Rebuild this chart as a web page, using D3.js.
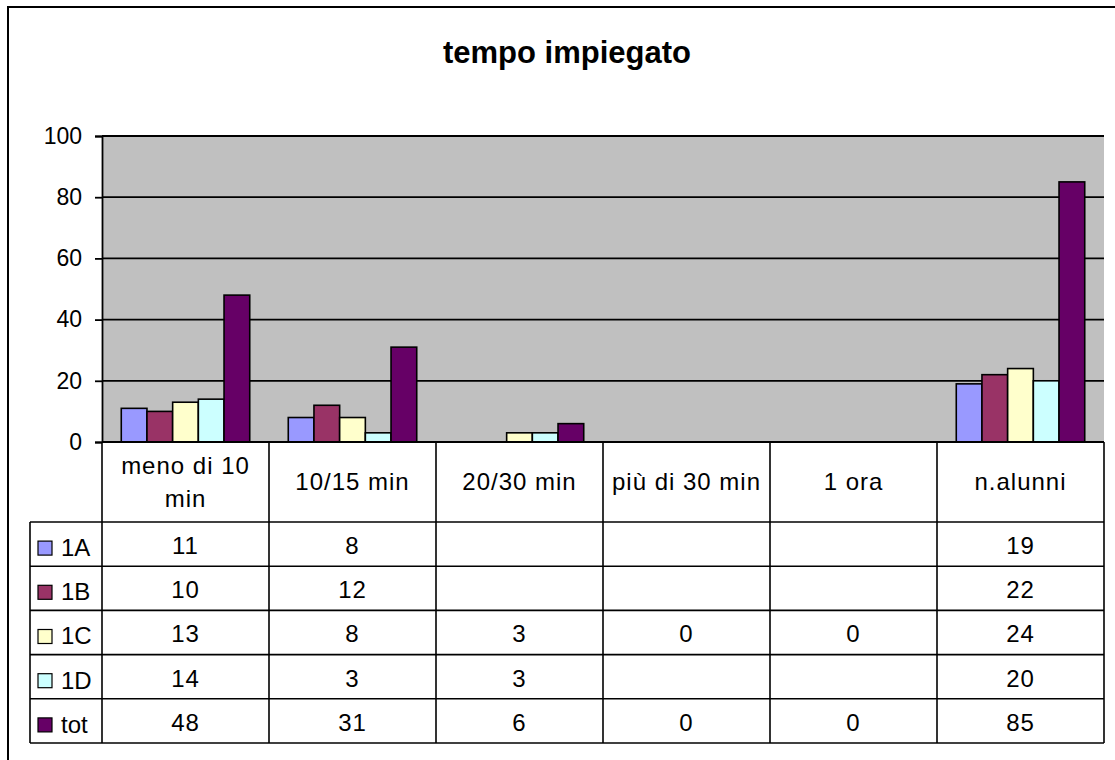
<!DOCTYPE html>
<html>
<head>
<meta charset="utf-8">
<script src="https://cdn.jsdelivr.net/npm/d3@7"></script>
<style>
  body { margin: 0; background: #fff; }
  text { font-family: "Liberation Sans", Arial, sans-serif; fill: #000; }
</style>
</head>
<body>
<div id="chart"></div>
<script>
// categories, series and values (null = empty cell in the data table)
const categories = ['meno di 10 min', '10/15 min', '20/30 min', 'più di 30 min', '1 ora', 'n.alunni'];
const seriesNames = ['1A', '1B', '1C', '1D', 'tot'];
const values1A = [11, 8, null, null, null, 19];
const values1B = [10, 12, null, null, null, 22];
const values1C = [13, 8, 3, 0, 0, 24];
const values1D = [14, 3, 3, null, null, 20];
const valuesTot = [48, 31, 6, 0, 0, 85];
const yTicks = [0, 20, 40, 60, 80, 100];
const title = 'tempo impiegato';

const colors = {
  '1A': '#9999ff',
  '1B': '#993366',
  '1C': '#ffffcc',
  '1D': '#ccffff',
  'tot': '#660066'
};

const series = seriesNames.map((name, i) => ({
  key: name,
  values: [values1A, values1B, values1C, values1D, valuesTot][i]
}));

const W = 1115, H = 760;
const plot = {left: 102, right: 1104, top: 136, bottom: 442};
const legendLeft = 30;
const headerBottom = 522;
const rowH = 44.2;

const svg = d3.select('#chart')
  .append('svg')
    .attr('width', W)
    .attr('height', H);

// outer chart frame (runs off the right and bottom of the picture)
svg.append('rect')
  .attr('x', 8).attr('y', 7)
  .attr('width', 1300).attr('height', 1000)
  .attr('fill', '#fff')
  .attr('stroke', '#000')
  .attr('stroke-width', 2);

// title
svg.append('text')
  .attr('x', 567).attr('y', 63)
  .attr('text-anchor', 'middle')
  .style('font-size', '31px')
  .style('font-weight', 'bold')
  .text(title);

const x = d3.scaleBand()
  .domain(categories)
  .range([plot.left, plot.right])
  .paddingInner(0).paddingOuter(0);

const gap = x.bandwidth() * 1.5 / (seriesNames.length + 1.5);
const xs = d3.scaleBand()
  .domain(seriesNames)
  .range([gap / 2, x.bandwidth() - gap / 2]);

const y = d3.scaleLinear()
  .domain([0, 100])
  .range([plot.bottom, plot.top]);

// plot area
svg.append('rect')
  .attr('x', plot.left).attr('y', plot.top)
  .attr('width', plot.right - plot.left)
  .attr('height', plot.bottom - plot.top)
  .attr('fill', '#c0c0c0');

// gridlines
svg.append('g')
  .selectAll('line')
  .data(yTicks.filter(d => d > 0))
  .enter().append('line')
    .attr('x1', plot.left).attr('x2', plot.right)
    .attr('y1', d => y(d)).attr('y2', d => y(d))
    .attr('stroke', '#000')
    .attr('stroke-width', 1.8);

// bars
svg.append('g')
  .selectAll('g')
  .data(series)
  .enter().append('g')
    .attr('fill', d => colors[d.key])
  .selectAll('rect')
  .data(d => d.values.map((v, i) => ({key: d.key, cat: categories[i], v: v})).filter(o => o.v !== null))
  .enter().append('rect')
    .attr('x', d => x(d.cat) + xs(d.key))
    .attr('y', d => y(d.v))
    .attr('width', xs.bandwidth())
    .attr('height', d => y(0) - y(d.v))
    .attr('stroke', '#000')
    .attr('stroke-width', 1.6);

// y axis
const yAxis = svg.append('g')
  .attr('transform', 'translate(' + plot.left + ',0)')
  .call(d3.axisLeft(y).tickValues(yTicks).tickSize(7).tickPadding(13));
yAxis.select('.domain').attr('stroke', '#000').attr('stroke-width', 1.8);
yAxis.selectAll('.tick line').attr('stroke', '#000').attr('stroke-width', 1.8);
yAxis.selectAll('.tick text')
  .style('font-size', '23px')
  .style('font-family', '"Liberation Sans", Arial, sans-serif')
  .attr('fill', '#000');

// ---- data table ----
const table = svg.append('g');
const tableBottom = headerBottom + rowH * series.length;

table.append('rect')
  .attr('x', plot.left).attr('y', plot.bottom)
  .attr('width', plot.right - plot.left)
  .attr('height', headerBottom - plot.bottom)
  .attr('fill', '#fff');
table.append('rect')
  .attr('x', legendLeft).attr('y', headerBottom)
  .attr('width', plot.right - legendLeft)
  .attr('height', tableBottom - headerBottom)
  .attr('fill', '#fff');

// horizontal rules
const hLines = d3.range(series.length + 1).map(i => headerBottom + i * rowH);
table.selectAll('.hline')
  .data(hLines)
  .enter().append('line')
    .attr('class', 'hline')
    .attr('x1', legendLeft).attr('x2', plot.right)
    .attr('y1', d => d).attr('y2', d => d)
    .attr('stroke', '#000').attr('stroke-width', 1.6);

// axis line at zero
table.append('line')
  .attr('x1', plot.left).attr('x2', plot.right)
  .attr('y1', plot.bottom).attr('y2', plot.bottom)
  .attr('stroke', '#000').attr('stroke-width', 2);

// vertical rules
const vLines = categories.map(c => x(c)).concat([plot.right]);
table.selectAll('.vline')
  .data(vLines)
  .enter().append('line')
    .attr('class', 'vline')
    .attr('x1', d => d).attr('x2', d => d)
    .attr('y1', plot.bottom).attr('y2', tableBottom)
    .attr('stroke', '#000').attr('stroke-width', 1.6);
table.append('line')
  .attr('x1', legendLeft).attr('x2', legendLeft)
  .attr('y1', headerBottom).attr('y2', tableBottom)
  .attr('stroke', '#000').attr('stroke-width', 1.6);

// category headers, wrapped to the column width
const catText = table.selectAll('.cat')
  .data(categories)
  .enter().append('text')
    .attr('class', 'cat')
    .attr('text-anchor', 'middle')
    .style('font-size', '24px')
    .style('letter-spacing', '1px');

catText.each(function(d) {
  const t = d3.select(this);
  const cx = x(d) + x.bandwidth() / 2;
  const words = d.split(' ');
  const lines = [];
  let line = [];
  words.forEach(w => {
    line.push(w);
    t.text(line.join(' '));
    if (this.getComputedTextLength() > x.bandwidth() - 10 && line.length > 1) {
      line.pop();
      lines.push(line.join(' '));
      line = [w];
    }
  });
  lines.push(line.join(' '));
  t.text(null);
  const mid = (plot.bottom + headerBottom) / 2;
  const lh = 33;
  lines.forEach((l, i) => {
    t.append('tspan')
      .attr('x', cx)
      .attr('y', mid + 8 + (i - (lines.length - 1) / 2) * lh)
      .text(l);
  });
});

// rows
const rows = table.selectAll('.row')
  .data(series)
  .enter().append('g')
    .attr('class', 'row')
    .attr('transform', (d, i) => 'translate(0,' + (headerBottom + i * rowH) + ')');

rows.append('rect')
  .attr('x', 38).attr('y', rowH / 2 - 3)
  .attr('width', 14).attr('height', 14)
  .attr('fill', d => colors[d.key])
  .attr('stroke', '#000').attr('stroke-width', 1.2);

rows.append('text')
  .attr('x', 61).attr('y', rowH / 2 + 12)
  .style('font-size', '24px')
  .text(d => d.key);

rows.selectAll('.val')
  .data(d => d.values.map((v, i) => ({cat: categories[i], v: v})).filter(o => o.v !== null))
  .enter().append('text')
    .attr('class', 'val')
    .attr('x', d => x(d.cat) + x.bandwidth() / 2)
    .attr('y', rowH / 2 + 10)
    .attr('text-anchor', 'middle')
    .style('font-size', '24px')
    .style('letter-spacing', '1px')
    .text(d => d.v);
</script>
</body>
</html>
